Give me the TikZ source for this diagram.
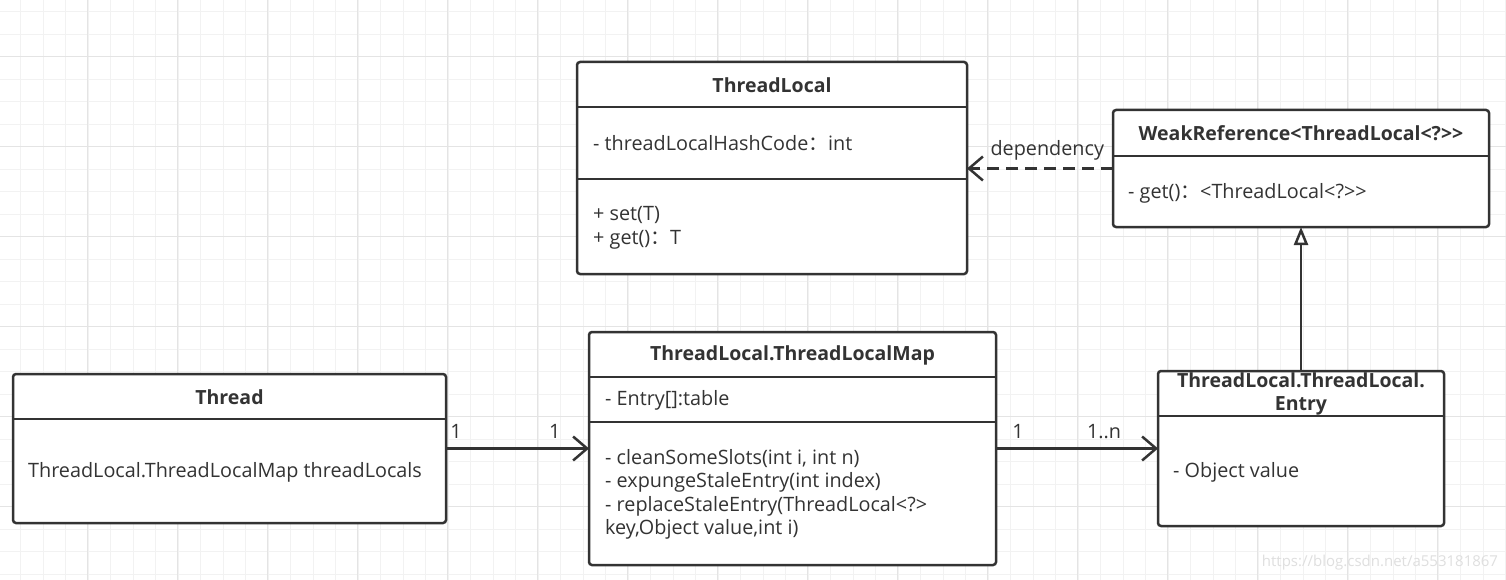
\documentclass[tikz,border=0pt]{standalone}
\usepackage{fontspec}
\setmainfont{Open Sans}
\newfontfamily\cjk{Noto Sans CJK SC}
\usetikzlibrary{arrows.meta,positioning}
\definecolor{linec}{HTML}{333333}
\definecolor{gridminor}{HTML}{F2F2F2}
\definecolor{gridmajor}{HTML}{E4E4E4}
\newcommand{\fwcolon}{{\cjk ：}}
\tikzset{font=\fontsize{19.8}{23.5}\selectfont}
\tikzset{umlbox/.style={draw=linec, line width=2.5pt, rounded corners=3pt, fill=white, anchor=north west, inner sep=0pt, outer sep=0pt}}
\tikzset{umltitle/.style={inner sep=0pt, text=linec, align=center, font=\fontsize{19.5}{23}\selectfont\bfseries}}
\tikzset{member/.style={anchor=west, inner sep=0pt, text=linec, align=left}}
\tikzset{divider/.style={draw=linec, line width=2.5pt}}
\tikzset{mult/.style={inner sep=0pt, text=linec, yshift=17pt}}
\tikzset{assoc/.style={draw=linec, line width=2.5pt, -{Straight Barb[length=14pt,width=24pt]}}}
\tikzset{depend/.style={draw=linec, line width=2.5pt, dash pattern=on 12pt off 7pt, -{Straight Barb[length=14pt,width=24pt]}}}
\tikzset{inherit/.style={draw=linec, line width=2.5pt, -{Triangle[open,length=18pt,width=14pt,fill=white]}}}

\begin{document}
\begin{tikzpicture}[x=1pt, y=-1pt]
  \useasboundingbox[fill=white] (0,0) rectangle (1506,580);
  % background grid
  \foreach \i in {0,...,66}
    \draw[gridminor, line width=1pt] ({20.7+22.5*\i},0) -- ({20.7+22.5*\i},580);
  \foreach \i in {0,...,25}
    \draw[gridminor, line width=1pt] (0,{11.7+22.5*\i}) -- (1506,{11.7+22.5*\i});
  \foreach \i in {0,...,16}
    \draw[gridmajor, line width=1pt] ({87.7+90*\i},0) -- ({87.7+90*\i},580);
  \foreach \i in {0,...,5}
    \draw[gridmajor, line width=1pt] (0,{56.7+90*\i}) -- (1506,{56.7+90*\i});

  % ThreadLocal
  \node[umlbox, minimum width=390pt, minimum height=212pt] (tl) at (577,62) {};
  \draw[divider] (tl.west |- 0,107) -- (tl.east |- 0,107);
  \draw[divider] (tl.west |- 0,179) -- (tl.east |- 0,179);
  \node[umltitle] (tl-name) at (772,85) {ThreadLocal};
  \node[member] (tl-attr) at (593,143) {- threadLocalHashCode\fwcolon int};
  \node[member] (tl-ops) at (593,228) {+ set(T)\\+ get()\fwcolon T};

  % WeakReference
  \node[umlbox, minimum width=376pt, minimum height=117pt] (wr) at (1113,110) {};
  \draw[divider] (wr.west |- 0,156) -- (wr.east |- 0,156);
  \node[umltitle] (wr-name) at (1301,133) {WeakReference<ThreadLocal<?>{}>};
  \node[member] (wr-ops) at (1128,193) {- get()\fwcolon <ThreadLocal<?>{}>};

  % Thread
  \node[umlbox, minimum width=433pt, minimum height=149pt] (th) at (13,374) {};
  \draw[divider] (th.west |- 0,419) -- (th.east |- 0,419);
  \node[umltitle] (th-name) at (229.5,397) {Thread};
  \node[member] (th-attr) at (28,472) {ThreadLocal.ThreadLocalMap threadLocals};

  % ThreadLocalMap
  \node[umlbox, minimum width=407pt, minimum height=233pt] (map) at (589,332) {};
  \draw[divider] (map.west |- 0,377) -- (map.east |- 0,377);
  \draw[divider] (map.west |- 0,422) -- (map.east |- 0,422);
  \node[umltitle] (map-name) at (792.5,355) {ThreadLocal.ThreadLocalMap};
  \node[member] (map-attr) at (605,400) {- Entry[]:table};
  \node[member] (map-ops) at (605,494.5) {- cleanSomeSlots(int i, int n)\\- expungeStaleEntry(int index)\\- replaceStaleEntry(ThreadLocal<?>\\key,Object value,int i)};

  % Entry
  \node[umlbox, minimum width=286pt, minimum height=155pt] (en) at (1158,371) {};
  \draw[divider] (en.west |- 0,416) -- (en.east |- 0,416);
  \node[umltitle] (en-name) at (1301,394) {ThreadLocal.ThreadLocal.\\Entry};
  \node[member] (en-attr) at (1173,472) {- Object value};

  % relations
  \draw[depend] (wr.west) -- (wr.west -| tl.east)
    node[pos=0.45, inner sep=0pt, text=linec, yshift=18pt] (dep-label) {dependency};
  \draw[assoc] (th.east) -- (th.east -| map.west)
    node[mult, pos=0.07] (th-mult) {1}
    node[mult, pos=0.76] (map-mult) {1};
  \draw[assoc] (map.east) -- (map.east -| en.west)
    node[mult, pos=0.136] (map-mult2) {1}
    node[mult, pos=0.667] (en-mult) {1..n};
  \draw[inherit] (en.north) -- (wr.south);

  \node[text=gray!25, inner sep=0pt, font=\fontsize{15}{15}\selectfont] (mark) at (1380,563) {https://blog.csdn.net/a553181867};
\end{tikzpicture}
\end{document}
